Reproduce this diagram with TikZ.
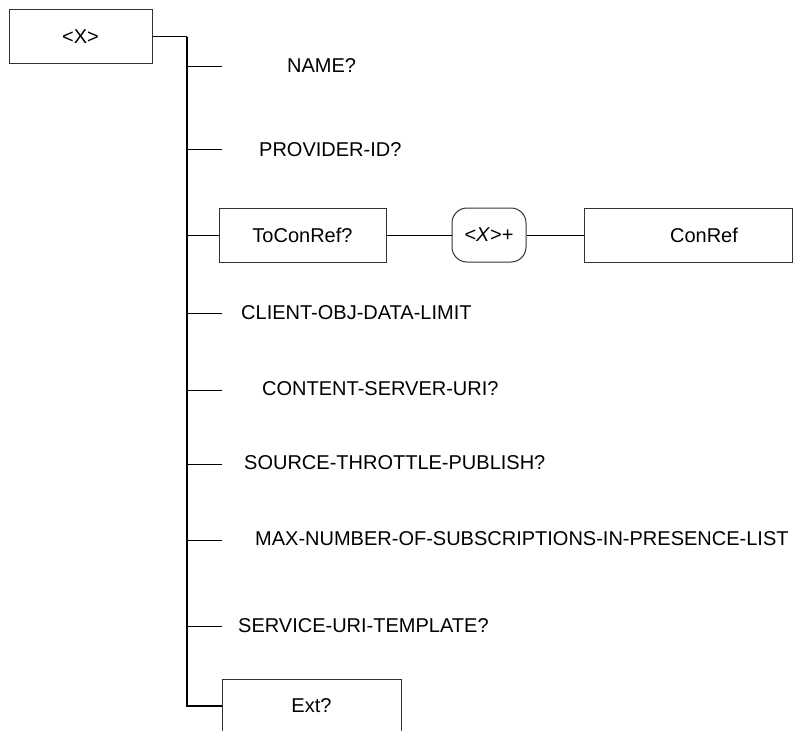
\documentclass[tikz,border=0pt]{standalone}
\usepackage{fontspec}
\setmainfont{Liberation Sans}
\begin{document}
\begin{tikzpicture}[x=1pt,y=-1pt,
  every node/.style={font=\fontsize{20}{24}\selectfont, inner sep=0pt},
  boxnode/.style={draw=black!80, line width=1pt, rectangle, minimum height=54pt},
  roundnode/.style={draw=black!80, line width=1pt, rectangle, rounded corners=15pt, minimum height=54pt},
  wire/.style={line width=1pt, black},
  trunk/.style={line width=1.4pt, black},
  lbl/.style={anchor=west}]
\useasboundingbox (0,0) rectangle (793,731);

% root
\node[boxnode, minimum width=143pt] (root) at (80.5,36.5) {<X>};
\coordinate (ttop) at (187,36.5);

% boxes
\node[boxnode, minimum width=167pt] (tocon) at (302.5,235) {ToConRef?};
\node[roundnode, minimum width=74pt] (xplus) at (489,235) {<\textit{X}>+};
\node[boxnode, minimum width=208pt] (conref) at (688,235) {\hspace*{32pt}ConRef};
\node[boxnode, minimum width=179pt] (ext) at (311.5,706) {Ext?};

% trunk
\draw[line width=1.8pt] (root.east) -- (ttop);
\draw[trunk] (ttop) |- (ext.west);

% branch junctions and ends
\foreach \n/\y in {1/66,2/149,4/313,5/390,6/464,7/540,8/626}{
  \coordinate (j\n) at (187,\y);
  \coordinate (e\n) at (222,\y);
  \draw[wire] (j\n) -- (e\n);
}
\coordinate (j3) at (187,235);
\draw[wire] (j3) -- (tocon.west);
\draw[wire] (tocon.east) -- (xplus.west);
\draw[wire] (xplus.east) -- (conref.west);

% labels
\node[lbl] (name) at (287,66) {NAME?};
\node[lbl] (prov) at (259,150) {PROVIDER-ID?};
\node[lbl] (client) at (241,313) {CLIENT-OBJ-DATA-LIMIT};
\node[lbl] (content) at (262,389) {CONTENT-SERVER-URI?};
\node[lbl] (source) at (244,463) {SOURCE-THROTTLE-PUBLISH?};
\node[lbl] (maxn) at (255,539) {MAX-NUMBER-OF-SUBSCRIPTIONS-IN-PRESENCE-LIST};
\node[lbl] (service) at (238,626) {SERVICE-URI-TEMPLATE?};
\end{tikzpicture}
\end{document}
